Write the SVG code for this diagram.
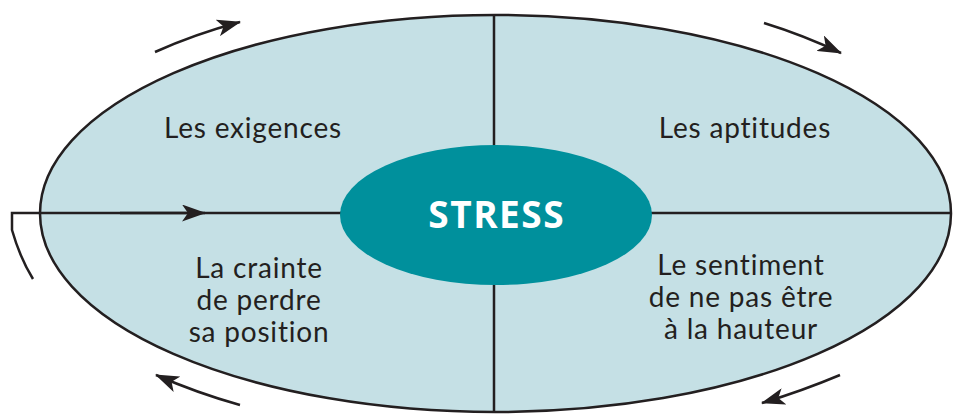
<svg xmlns="http://www.w3.org/2000/svg" width="958" height="415" viewBox="0 0 958 415">
<style>
.ln{stroke:#231f20;stroke-width:2.5;fill:none}
.lbl{font-family:Lato,"Open Sans",sans-serif;font-size:28px;letter-spacing:0.8px;fill:#231f20;text-anchor:middle}
.core{font-family:"Open Sans","Liberation Sans",sans-serif;font-weight:bold;font-size:37px;letter-spacing:1.5px;fill:#ffffff;text-anchor:middle}
</style>
<defs>
<marker id="ah" viewBox="0 0 24 17" refX="23" refY="8.5" markerWidth="24" markerHeight="17" markerUnits="userSpaceOnUse" orient="auto">
<path d="M0,0 L24,8.5 L0,17 L6,8.5 Z" fill="#231f20"/>
</marker>
</defs>
<g id="outer">
<ellipse cx="495.5" cy="213.5" rx="455.5" ry="198.5" fill="#c5e0e5" stroke="#231f20" stroke-width="2.5"/>
</g>
<g id="connectors">
<line class="ln" x1="494" y1="15" x2="494" y2="412"/>
<line class="ln" x1="340" y1="213" x2="951" y2="213"/>
<path class="ln" d="M345,213 L12,213 L12,230 Q20,258 33,279"/>
<line class="ln" x1="120" y1="213" x2="205" y2="213" marker-end="url(#ah)"/>
<path class="ln" d="M155,52 Q195,34 240,22" marker-end="url(#ah)"/>
<path class="ln" d="M764,23 Q803,35 841,53" marker-end="url(#ah)"/>
<path class="ln" d="M240,405 Q197,393 156,375" marker-end="url(#ah)"/>
<path class="ln" d="M840,375 Q802,391 762,403" marker-end="url(#ah)"/>
</g>
<g id="stress">
<ellipse cx="496" cy="215" rx="156" ry="70" fill="#00909c"/>
<text class="core" x="496.7" y="228">STRESS</text>
</g>
<g id="exigences"><text class="lbl" x="253" y="138">Les exigences</text></g>
<g id="aptitudes"><text class="lbl" x="745" y="138">Les aptitudes</text></g>
<g id="crainte"><text class="lbl" x="259" y="278">La crainte<tspan x="259" dy="32">de perdre</tspan><tspan x="259" dy="32">sa position</tspan></text></g>
<g id="sentiment"><text class="lbl" x="741" y="275">Le sentiment<tspan x="741" dy="32">de ne pas être</tspan><tspan x="741" dy="32">à la hauteur</tspan></text></g>
</svg>
